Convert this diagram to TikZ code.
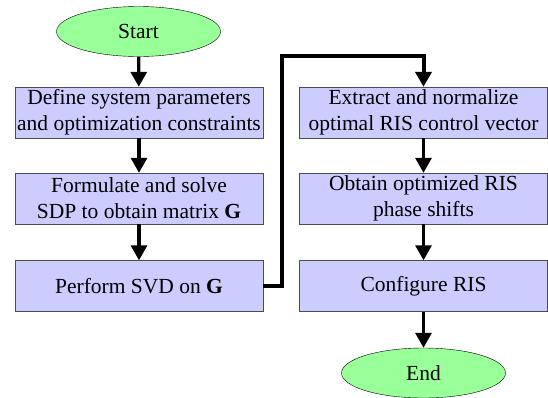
\documentclass[tikz,border=0pt]{standalone}
\usepackage{fontspec}
\setmainfont{Liberation Serif}
\usetikzlibrary{arrows.meta, positioning, shapes.geometric}

\begin{document}
\begin{tikzpicture}[
  x=1pt, y=1pt,
  startstop/.style = {ellipse, draw=black, thin, fill=green!40, minimum width=164pt, minimum height=50pt, inner sep=0pt},
  process/.style = {rectangle, draw=black!70, thin, fill=blue!20, minimum width=248pt, minimum height=51pt, align=center, inner sep=1pt},
  arrow/.style = {line width=3.2pt, -{Triangle[width=16pt, length=15pt]}},
  link/.style = {line width=4pt, line join=miter, -{Triangle[width=16pt, length=15pt]}},
  every node/.style = {font=\fontsize{21.5}{26}\selectfont}
]

% Canvas
\useasboundingbox (0,0) rectangle (548,-397);

% Left column
\node[startstop] (start) at (138.5,-31.5) {Start};
\node[process] (define) at (139,-112.5) {Define system parameters\\and optimization constraints};
\node[process] (formulate) at (139,-198.5) {Formulate and solve\\SDP to obtain matrix \textbf{G}};
\node[process] (svd) at (139,-286) {Perform SVD on \textbf{G}};

% Right column
\node[process] (extract) at (423.5,-112.5) {Extract and normalize\\optimal RIS control vector};
\node[process] (obtain) at (423.5,-198.5) {Obtain optimized RIS\\phase shifts};
\node[process] (configure) at (423.5,-286) {Configure RIS};
\node[startstop] (stop) at (423.5,-373) {End};

% Arrows
\draw[arrow] (start) -- (define);
\draw[arrow] (define) -- (formulate);
\draw[arrow] (formulate) -- (svd);
\draw[arrow] (extract) -- (obtain);
\draw[arrow] (obtain) -- (configure);
\draw[arrow] (configure) -- (stop);

% Link between the columns
\coordinate (bend) at (282,-56);
\draw[link] (svd.east) -| (bend) -| (extract.north);

\end{tikzpicture}
\end{document}
